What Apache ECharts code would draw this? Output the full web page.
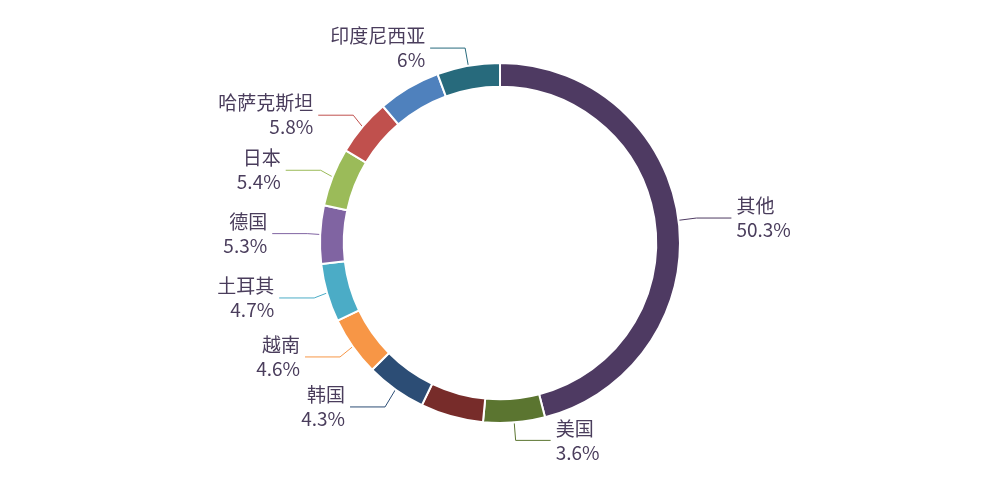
<!DOCTYPE html>
<html>
<head>
<meta charset="utf-8">
<script src="https://cdn.jsdelivr.net/npm/echarts@6/dist/echarts.min.js"></script>
<style>html,body{margin:0;padding:0;background:#fff}#main{width:1000px;height:500px}</style>
</head>
<body>
<div id="main"></div>
<script>
// 分类、扇区大小、标签百分比
var names = ['其他', '美国', '', '韩国', '越南', '土耳其', '德国', '日本', '哈萨克斯坦', '', '印度尼西亚'];
var values = [45.7, 5.5, 5.6, 5.4, 5.3, 5.2, 5.2, 5.2, 5.1, 5.6, 5.6];
var pctLabels = ['50.3%', '3.6%', '', '4.3%', '4.6%', '4.7%', '5.3%', '5.4%', '5.8%', '', '6%'];
var colors = ['#4e3a62', '#5b7530', '#772c2a', '#2c4d75', '#f79646', '#4bacc6', '#8064a2', '#9bbb59', '#c0504d', '#4f81bd', '#276a7c'];

var chart = echarts.init(document.getElementById('main'));

var data = names.map(function (n, i) {
  var item = { name: n || ('_' + i), value: values[i], itemStyle: { color: colors[i] } };
  if (!n) {
    item.label = { show: false };
    item.labelLine = { show: false };
  }
  return item;
});

chart.setOption({
  animation: false,
  series: [{
    type: 'pie',
    center: ['50%', '48.6%'],
    radius: ['62.5%', '72%'],
    startAngle: 90,
    clockwise: true,
    itemStyle: { borderColor: '#fff', borderWidth: 2 },
    label: {
      fontFamily: 'Noto Sans CJK SC',
      fontSize: 19,
      lineHeight: 24,
      align: 'center',
      color: '#4a3d5c',
      formatter: function (p) {
        return names[p.dataIndex] + '\n' + pctLabels[p.dataIndex];
      }
    },
    labelLine: { length: 18, length2: 35, lineStyle: { width: 1 } },
    data: data
  }]
});
</script>
</body>
</html>
